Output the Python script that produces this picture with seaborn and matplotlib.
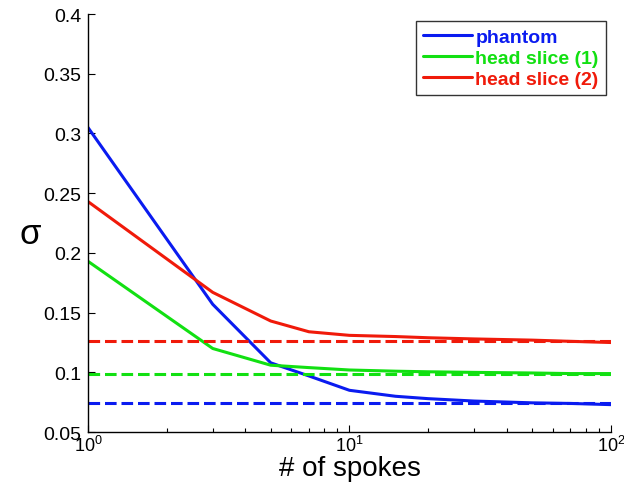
import numpy as np
import pandas as pd
import matplotlib
matplotlib.use("Agg")
import matplotlib.pyplot as plt
import seaborn as sns

# number of spokes (x) and sigma per data set
spokes = [1, 3, 5, 7, 10, 15, 20, 30, 50, 70, 100]
phantom = [0.305, 0.157, 0.108, 0.097, 0.085, 0.080, 0.078, 0.076, 0.0745, 0.074, 0.073]
head1 = [0.193, 0.120, 0.106, 0.104, 0.102, 0.101, 0.1005, 0.100, 0.0995, 0.099, 0.099]
head2 = [0.243, 0.167, 0.143, 0.134, 0.131, 0.130, 0.129, 0.128, 0.127, 0.126, 0.125]

# reference (dashed) levels
ref_levels = [0.074, 0.099, 0.126]

names = ["phantom", "head slice (1)", "head slice (2)"]
colors = ["#0a1bf0", "#12e012", "#f01a0a"]

df = pd.DataFrame({
    "spokes": spokes * 3,
    "sigma": phantom + head1 + head2,
    "set": [names[0]] * len(spokes) + [names[1]] * len(spokes) + [names[2]] * len(spokes),
})

sns.set_style("ticks")
plt.rcParams["font.family"] = ["Liberation Sans", "DejaVu Sans"]
plt.rcParams["xtick.direction"] = "in"
plt.rcParams["ytick.direction"] = "in"
plt.rcParams["text.color"] = "black"
plt.rcParams["axes.labelcolor"] = "black"

fig = plt.figure(figsize=(6.24, 4.85), dpi=100)
ax = fig.add_axes([0.141, 0.107, 0.838, 0.862])

sns.lineplot(data=df, x="spokes", y="sigma", hue="set", palette=colors,
             linewidth=2.2, ax=ax)

for lvl, c in zip(ref_levels, colors):
    ax.axhline(lvl, color=c, linewidth=2.2, linestyle=(0, (3.8, 1.6)))

ax.set_xscale("log")
ax.set_xlim(1, 100)
ax.set_ylim(0.05, 0.4)
ax.set_yticks([0.05, 0.1, 0.15, 0.2, 0.25, 0.3, 0.35, 0.4])
ax.set_yticklabels(["0.05", "0.1", "0.15", "0.2", "0.25", "0.3", "0.35", "0.4"])
ax.tick_params(axis="both", which="major", labelsize=14, length=5, width=0.8, colors="black")
ax.tick_params(axis="y", which="major", pad=5)
ax.tick_params(axis="x", which="major", labelsize=13, pad=2)
ax.tick_params(axis="x", which="minor", length=3, width=0.8, colors="black")
for s in ["top", "right"]:
    ax.spines[s].set_visible(False)
for s in ["left", "bottom"]:
    ax.spines[s].set_linewidth(1.0)
    ax.spines[s].set_color("black")

ax.set_xlabel("# of spokes", fontsize=20, labelpad=0, color="black")
ax.set_ylabel("σ", fontsize=25, rotation=0, va="center", ha="center", color="black")
ax.yaxis.set_label_coords(-0.111, 0.474)

leg = ax.legend(loc="upper right", bbox_to_anchor=(0.99, 0.983), borderaxespad=0,
                fontsize=14, frameon=True, fancybox=False, handlelength=2.5,
                handletextpad=0.2, borderpad=0.35, labelspacing=0.18, title=None)
leg.get_frame().set_edgecolor("black")
leg.get_frame().set_linewidth(1.0)
for txt, c in zip(leg.get_texts(), colors):
    txt.set_color(c)
    txt.set_fontweight("bold")

fig.savefig("out.png", dpi=100)
